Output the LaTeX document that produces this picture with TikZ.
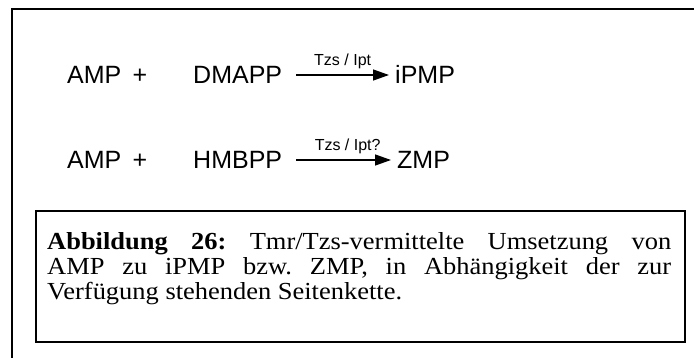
\documentclass[tikz,border=0pt]{standalone}
\usepackage{fontspec}
\setmainfont{Liberation Serif}[FakeStretch=1.08]
\newfontfamily\arialfont{Liberation Sans}
\usetikzlibrary{arrows.meta}
\frenchspacing
\begin{document}
\begin{tikzpicture}[x=1pt,y=-1pt,
  chem/.style={inner sep=0pt, font=\arialfont\fontsize{25}{25}\selectfont,
    text height=17.9pt, text depth=0pt},
  enz/.style={inner sep=0pt, anchor=south, yshift=6pt,
    font=\arialfont\fontsize{16}{16}\selectfont},
  rxn/.style={line width=1.3pt, -{Triangle[length=16pt,width=11pt]},
    shorten <=14pt, shorten >=6pt},
  frame/.style={line width=2.2pt},
  capbox/.style={draw, line width=2pt, inner sep=0pt, anchor=north west},
  capline/.style={inner sep=0pt, anchor=base west,
    font=\fontsize{24.5}{24.5}\selectfont}]
\useasboundingbox (0,0) rectangle (694,358);

% open outer frame: left and top edge only
\coordinate (fbot) at (12,358);
\coordinate (fcorner) at (12,9);
\coordinate (fright) at (694,9);
\draw[frame] (fbot) -- (fcorner) -- (fright);

% first reaction
\node[chem, anchor=west] (amp1) at (67,75) {AMP};
\node[chem] (plus1) at (140,75) {+};
\node[chem, anchor=west] (dmapp) at (193,75) {DMAPP};
\node[chem, anchor=west] (ipmp) at (395,75) {iPMP};
\draw[rxn] (dmapp.east) -- (ipmp.west)
  node[enz, midway, xshift=4pt] (enz1) {Tzs / Ipt};

% second reaction
\node[chem, anchor=west] (amp2) at (67,160) {AMP};
\node[chem] (plus2) at (140,160) {+};
\node[chem, anchor=west] (hmbpp) at (193,160) {HMBPP};
\node[chem, anchor=west] (zmp) at (397,160) {ZMP};
\draw[rxn] (hmbpp.east) -- (zmp.west)
  node[enz, midway, xshift=8pt] (enz2) {Tzs / Ipt?};

% caption box with justified caption lines
\node[capbox, minimum width=649pt, minimum height=131pt] (cap) at (35,210) {};
\node[capline] (cap1) at (47,250)
  {\makebox[624pt][s]{\textbf{Abbildung 26:} Tmr/Tzs-vermittelte Umsetzung von}};
\node[capline] (cap2) at (47,275)
  {\makebox[624pt][s]{AMP zu iPMP bzw. ZMP, in Abhängigkeit der zur}};
\node[capline] (cap3) at (47,300) {Verfügung stehenden Seitenkette.};
\end{tikzpicture}
\end{document}
